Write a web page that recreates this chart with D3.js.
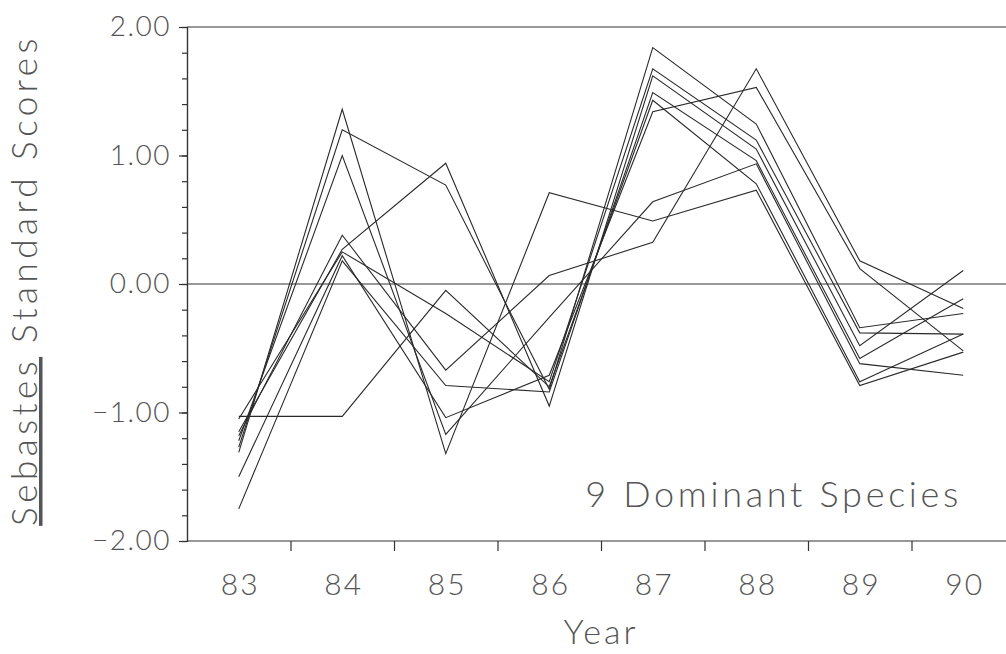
<!DOCTYPE html>
<html>
<head>
<meta charset="utf-8">
<script src="https://cdn.jsdelivr.net/npm/d3@7"></script>
<style>
  body { margin: 0; background: #fff; }
  svg { display: block; }
  .axis path, .axis line { stroke: #333; stroke-width: 1.2; }
  .axis text { font-family: Lato, "DejaVu Sans", sans-serif; font-weight: 300; fill: #555; }
</style>
</head>
<body>
<script>
const width = 1006
const height = 654

const years = [83, 84, 85, 86, 87, 88, 89, 90]
const yTicks = [-2, -1, 0, 1, 2]
const xTickMarks = [83.5, 84.5, 85.5, 86.5, 87.5, 88.5, 89.5]

// one array per species, standard scores
const sp1 = [-1.03, -1.03, -0.05, -0.80, 1.43, 0.78, -0.76, -0.39]
const sp2 = [-1.31, 1.36, -1.32, 0.71, 0.49, 0.73, -0.79, -0.53]
const sp3 = [-1.27, 1.20, 0.77, -0.82, 1.84, 1.245, -0.34, -0.23]
const sp4 = [-1.22, 1.00, -1.17, -0.26, 0.64, 0.935, -0.62, -0.71]
const sp5 = [-1.18, 0.38, -0.67, 0.066, 0.325, 1.675, 0.18, -0.19]
const sp6 = [-1.15, 0.27, 0.94, -0.95, 1.62, 1.05, -0.48, 0.105]
const sp7 = [-1.05, 0.25, -0.23, -0.76, 1.675, 1.12, -0.38, -0.39]
const sp8 = [-1.50, 0.22, -1.04, -0.71, 1.34, 1.53, 0.12, -0.52]
const sp9 = [-1.75, 0.18, -0.79, -0.84, 1.49, 0.96, -0.58, -0.115]
const species = [sp1, sp2, sp3, sp4, sp5, sp6, sp7, sp8, sp9]

const x = d3.scaleLinear().domain([82.5, 90.5]).range([187, 1015])
const y = d3.scaleLinear().domain([-2, 2]).range([541, 27])

const font = "Lato, 'DejaVu Sans', sans-serif"

const svg = d3.select("body").append("svg")
    .attr("width", width)
    .attr("height", height)

// frame lines: top and zero line
svg.append("line")
    .attr("x1", x(82.5)).attr("x2", width)
    .attr("y1", y(2)).attr("y2", y(2))
    .attr("stroke", "#333").attr("stroke-width", 1.2)

svg.append("line")
    .attr("x1", x(82.5)).attr("x2", width)
    .attr("y1", y(0)).attr("y2", y(0))
    .attr("stroke", "#333").attr("stroke-width", 1.2)

// minor y ticks
svg.append("g")
    .attr("class", "axis")
    .attr("transform", `translate(${x(82.5)},0)`)
    .call(d3.axisLeft(y).ticks(20).tickSize(5).tickFormat(""))

// major y ticks with labels
svg.append("g")
    .attr("class", "axis")
    .attr("transform", `translate(${x(82.5)},0)`)
    .call(d3.axisLeft(y).tickValues(yTicks).tickSize(8).tickPadding(8).tickFormat(d3.format(".2f")))
    .call(g => g.selectAll("text").attr("font-size", 28).attr("letter-spacing", 1.5))

// bottom axis, ticks between years
svg.append("g")
    .attr("class", "axis")
    .attr("transform", `translate(0,${y(-2)})`)
    .call(d3.axisBottom(x).tickValues(xTickMarks).tickSize(10).tickSizeOuter(0).tickFormat(""))
    .call(g => g.select(".domain").attr("d", `M${x(82.5)},0H${width}`))

// year labels centred under the data points
svg.append("g")
    .attr("class", "axis")
    .attr("transform", `translate(0,${y(-2)})`)
    .call(d3.axisBottom(x).tickValues(years).tickSize(0).tickPadding(33).tickFormat(d => d))
    .call(g => g.select(".domain").remove())
    .call(g => g.selectAll("text").attr("font-size", 30).attr("letter-spacing", 2).attr("dx", 1))

const line = d3.line()
    .x((d, i) => x(years[i]))
    .y(d => y(d))

svg.append("g")
    .selectAll("path")
    .data(species)
    .join("path")
    .attr("d", line)
    .attr("fill", "none")
    .attr("stroke", "#2a2a2a")
    .attr("stroke-width", 1.1)

svg.append("text")
    .attr("x", 601)
    .attr("y", 644)
    .attr("text-anchor", "middle")
    .attr("font-family", font)
    .attr("font-weight", 300)
    .attr("font-size", 34)
    .attr("letter-spacing", 3)
    .attr("fill", "#555")
    .text("Year")

const yLabel = svg.append("text")
    .attr("transform", "translate(37,280) rotate(-90)")
    .attr("text-anchor", "middle")
    .attr("font-family", font)
    .attr("font-weight", 300)
    .attr("font-size", 35)
    .attr("letter-spacing", 4.5)
    .attr("fill", "#555")

yLabel.append("tspan")
    .style("text-decoration", "underline")
    .text("Sebastes")
yLabel.append("tspan").text(" Standard Scores")

svg.append("text")
    .attr("x", 962)
    .attr("y", 507)
    .attr("text-anchor", "end")
    .attr("font-family", font)
    .attr("font-weight", 300)
    .attr("font-size", 36)
    .attr("letter-spacing", 3.7)
    .attr("fill", "#555")
    .text("9 Dominant Species")
</script>
</body>
</html>
